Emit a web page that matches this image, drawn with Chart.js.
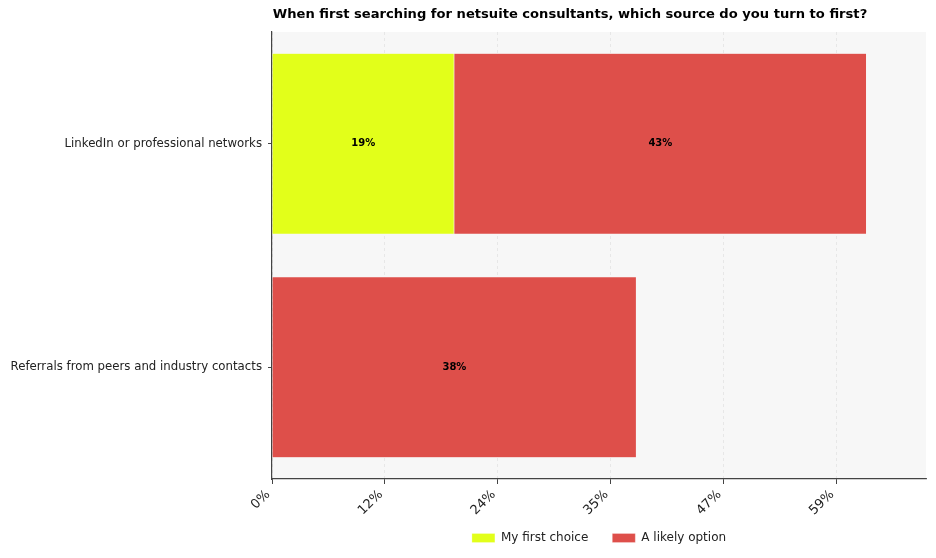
<!DOCTYPE html>
<html lang="en">
<head>
<meta charset="UTF-8">
<title>Netsuite consultants source</title>
<script src="https://cdn.jsdelivr.net/npm/chart.js"></script>
<style>
  html, body { margin: 0; padding: 0; background: #fff; }
  #wrap { width: 936px; height: 558px; }
</style>
</head>
<body>
<div id="wrap"><canvas id="grafico" width="936" height="558"></canvas></div>
<script>
// data
var titleText = 'When first searching for netsuite consultants, which source do you turn to first?';
var categories = ['LinkedIn or professional networks', 'Referrals from peers and industry contacts'];
var seriesNames = ['My first choice', 'A likely option'];
var firstChoice = [19, null];
var likelyOption = [43, 38];
var xTickValues = [0, 11.76, 23.53, 35.29, 47.06, 58.82];
var xTickLabels = ['0%', '12%', '24%', '35%', '47%', '59%'];
var xMax = 68.2;

var fontFam = '"DejaVu Sans", sans-serif';

// background of plot area + title
var fundo = {
    id: 'fundo',
    beforeDraw: function (chart) {
        var a = chart.chartArea, ctx = chart.ctx;
        ctx.save();
        ctx.fillStyle = '#f7f7f7';
        ctx.fillRect(a.left, a.top, a.right - a.left, a.bottom - a.top);
        ctx.fillStyle = '#000';
        ctx.font = 'bold 13.1px ' + fontFam;
        ctx.textAlign = 'center';
        ctx.textBaseline = 'middle';
        ctx.fillText(titleText, 570, 15);
        ctx.restore();
    }
};

// values in the middle of each segment
var rotulos = {
    id: 'rotulos',
    afterDatasetsDraw: function (chart) {
        var ctx = chart.ctx;
        ctx.save();
        ctx.font = 'bold 10px ' + fontFam;
        ctx.fillStyle = '#000';
        ctx.textAlign = 'center';
        ctx.textBaseline = 'middle';
        chart.data.datasets.forEach(function (ds, i) {
            chart.getDatasetMeta(i).data.forEach(function (bar, j) {
                var v = ds.data[j];
                if (v == null) return;
                var p = bar.getProps(['x', 'y', 'base'], true);
                ctx.fillText(Math.round(v) + '%', (p.x + p.base) / 2, p.y);
            });
        });
        ctx.restore();
    }
};

var ctx = document.getElementById('grafico').getContext('2d');
var meuGrafico = new Chart(ctx, {
    type: 'bar',
    data: {
        labels: categories,
        datasets: [{
            label: seriesNames[0],
            data: firstChoice,
            backgroundColor: '#e2ff1a',
            borderColor: 'rgba(255,255,255,0.5)',
            borderWidth: 0.5,
            barPercentage: 0.81,
            categoryPercentage: 1.0
        }, {
            label: seriesNames[1],
            data: likelyOption,
            backgroundColor: '#de4f4a',
            borderColor: 'rgba(255,255,255,0.5)',
            borderWidth: 0.5,
            barPercentage: 0.81,
            categoryPercentage: 1.0
        }]
    },
    options: {
        indexAxis: 'y',
        responsive: false,
        animation: false,
        layout: { padding: { top: 32, right: 10, left: 0, bottom: 4 } },
        scales: {
            x: {
                stacked: true,
                min: 0,
                max: xMax,
                afterBuildTicks: function (scale) {
                    scale.ticks = xTickValues.map(function (v) { return { value: v }; });
                },
                afterFit: function (scale) {
                    scale.height = 29;
                    // rotated labels go below the axis box, so don't clip them
                    scale._computeLabelArea = function () { return undefined; };
                },
                ticks: {
                    autoSkip: false,
                    minRotation: 45,
                    maxRotation: 45,
                    padding: 3,
                    labelOffset: -4,
                    color: '#222',
                    font: { family: fontFam, size: 13 },
                    callback: function (v, i) { return xTickLabels[i]; }
                },
                grid: {
                    color: '#e2e2e2',
                    lineWidth: 0.8,
                    tickLength: 5,
                    tickColor: '#444',
                    tickWidth: 1
                },
                border: { display: true, color: '#444', width: 1.2, dash: [3, 3] }
            },
            y: {
                stacked: true,
                afterFit: function (scale) { scale.width = 272; },
                ticks: {
                    padding: 6,
                    color: '#222',
                    font: { family: fontFam, size: 11.75 }
                },
                grid: {
                    offset: false,
                    drawOnChartArea: false,
                    tickLength: 4,
                    tickColor: '#444',
                    tickWidth: 1
                },
                border: { display: true, color: '#444', width: 1.2 }
            }
        },
        plugins: {
            legend: {
                position: 'bottom',
                fullSize: false,
                labels: {
                    boxWidth: 23,
                    boxHeight: 9,
                    padding: 24,
                    color: '#222',
                    font: { family: fontFam, size: 12 }
                }
            },
            title: { display: false },
            tooltip: { enabled: false }
        }
    },
    plugins: [fundo, rotulos]
});
</script>
</body>
</html>
